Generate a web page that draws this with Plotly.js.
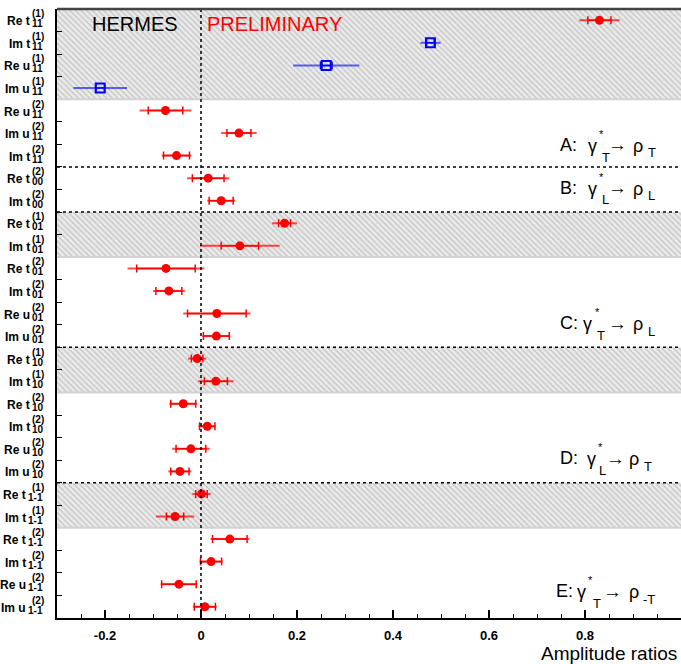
<!DOCTYPE html>
<html>
<head>
<meta charset="utf-8">
<script src="https://cdn.plot.ly/plotly-3.0.1.min.js"></script>
<style>html,body{margin:0;padding:0;background:#fff;}#chart{width:681px;height:664px;}</style>
</head>
<body>
<div id="chart"></div>
<script>
// ---- data ----
var labelMain = ['Re t','Im t','Re u','Im u','Re u','Im u','Im t','Re t','Im t','Re t','Im t','Re t','Im t','Re u','Im u','Re t','Im t','Re t','Im t','Re u','Im u','Re t','Im t','Re t','Im t','Re u','Im u'];
var labelSub  = ['11','11','11','11','11','11','11','00','00','01','01','01','01','01','01','10','10','10','10','10','10','1-1','1-1','1-1','1-1','1-1','1-1'];
var labelSup  = ['(1)','(1)','(1)','(1)','(2)','(2)','(2)','(2)','(2)','(1)','(1)','(2)','(2)','(2)','(2)','(1)','(1)','(2)','(2)','(2)','(2)','(1)','(1)','(2)','(2)','(2)','(2)'];
var ratio     = [0.830, 0.478, 0.261, -0.210, -0.074, 0.079, -0.051, 0.015, 0.042, 0.174, 0.081, -0.073, -0.067, 0.033, 0.032, -0.008, 0.031, -0.037, 0.013, -0.021, -0.044, 0.001, -0.054, 0.060, 0.021, -0.046, 0.008];
var statErr   = [0.024, 0.008, 0.012, 0.009, 0.036, 0.025, 0.027, 0.033, 0.025, 0.0125, 0.039, 0.061, 0.027, 0.061, 0.027, 0.012, 0.024, 0.026, 0.016, 0.031, 0.019, 0.012, 0.018, 0.036, 0.022, 0.036, 0.022];
var totErr    = [0.042, 0.021, 0.069, 0.056, 0.054, 0.037, 0.031, 0.044, 0.029, 0.026, 0.083, 0.080, 0.033, 0.070, 0.029, 0.019, 0.037, 0.029, 0.018, 0.039, 0.024, 0.019, 0.040, 0.040, 0.024, 0.038, 0.025];
var series    = ['red','blue','blue','blue','red','red','red','red','red','red','red','red','red','red','red','red','red','red','red','red','red','red','red','red','red','red','red'];
var shadedBands = [[0,4],[9,11],[15,17],[21,23]];   // row ranges with hatched background
var groupBounds = [7, 9, 15, 21];                   // dotted separators (row boundaries)
var tickVals = [-0.2, 0, 0.2, 0.4, 0.6, 0.8];
var tickText = ['-0.2','0','0.2','0.4','0.6','0.8'];
var xRange = [-0.3, 1.0];

// ---- layout helpers ----
var FONT = 'Liberation Sans, Arial, Helvetica, sans-serif';
// narrow face for the row labels if it is installed
var LABELFONT = FONT, LABELSIZE = 12;
(function(){
  try {
    var c = document.createElement('canvas').getContext('2d');
    c.font = 'bold 13px "Liberation Sans Narrow", monospace';
    var a = c.measureText('Re uuuu Im').width;
    c.font = 'bold 13px monospace';
    var b = c.measureText('Re uuuu Im').width;
    if (Math.abs(a - b) > 0.5) { LABELFONT = 'Liberation Sans Narrow, ' + FONT; LABELSIZE = 13; }
  } catch (e) {}
})();
var L = 57, T = 9, W = 624, H = 609;
function px(x){ return (x - L) / W; }
function py(y){ return 1 - (y - T) / H; }
var nRows = labelMain.length;

var traces = [];
shadedBands.forEach(function(b){
  traces.push({
    x: [xRange[0], xRange[1], xRange[1], xRange[0], xRange[0]],
    y: [b[0], b[0], b[1], b[1], b[0]],
    mode: 'lines', fill: 'toself', line: {width: 0},
    fillcolor: '#e8e8e8',
    fillpattern: {shape: '\\', fgcolor: '#c2c2c2', bgcolor: '#ebebeb', size: 4, solidity: 0.3},
    hoverinfo: 'skip', showlegend: false
  });
});

function pick(arr, col){ return arr.filter(function(_, i){ return series[i] === col; }); }
var rowY = labelMain.map(function(_, i){ return i + 0.5; });

['red','blue'].forEach(function(col){
  var xs = pick(ratio, col), ys = pick(rowY, col);
  var full = col === 'red' ? 'rgb(255,0,0)' : 'rgb(0,0,255)';
  var soft = col === 'red' ? 'rgba(255,0,0,0.7)' : 'rgba(20,20,255,0.65)';
  traces.push({
    x: xs, y: ys, mode: 'markers', marker: {size: 1, color: 'rgba(0,0,0,0)'},
    error_x: {type: 'data', array: pick(totErr, col), symmetric: true, color: soft, thickness: 2, width: 0},
    hoverinfo: 'skip', showlegend: false
  });
  traces.push({
    x: xs, y: ys, mode: 'markers',
    marker: col === 'red'
      ? {symbol: 'circle', size: 9, color: full}
      : {symbol: 'square-open', size: 9, color: full, line: {width: 2, color: full}},
    error_x: {type: 'data', array: pick(statErr, col), symmetric: true, color: full, thickness: 1.5, width: 4},
    hoverinfo: 'skip', showlegend: false
  });
});

var shapes = [];
shadedBands.forEach(function(b){
  shapes.push({type:'line', xref:'paper', yref:'y', x0:0, x1:1, y0:b[1], y1:b[1], line:{color:'#d2d2d2', width:2}});
});
groupBounds.forEach(function(r){
  shapes.push({type:'line', xref:'paper', yref:'y', x0:0, x1:1, y0:r, y1:r, line:{color:'#000', width:1.5, dash:'dot'}});
});
shapes.push({type:'line', xref:'x', yref:'paper', x0:0, x1:0, y0:0, y1:1, line:{color:'#000', width:1.5, dash:'dot'}});
shapes.push({type:'line', xref:'paper', yref:'paper', x0:0, x1:1, y0:1, y1:1, line:{color:'#444', width:2.5}});

var ann = [];
for (var i = 0; i < nRows; i++) {
  var wide = labelSub[i].length > 2;
  var mainR = wide ? 27 : 31, scrL = wide ? 27 : 31;
  ann.push({xref:'paper', yref:'y', x:px(mainR), y:i+0.5, xanchor:'right', yanchor:'middle', showarrow:false,
    text:labelMain[i], font:{family:LABELFONT, size:LABELSIZE, color:'#000', weight:'bold'}, yshift:-1, borderpad:0});
  ann.push({xref:'paper', yref:'y', x:px(scrL), y:i+0.5, xanchor:'left', yanchor:'middle', showarrow:false,
    text:labelSub[i], font:{family:FONT, size:10, color:'#000', weight:'bold'}, yshift:-3.5, borderpad:0});
  ann.push({xref:'paper', yref:'y', x:px(wide ? 31 : 31), y:i+0.5, xanchor:'left', yanchor:'middle', showarrow:false,
    text:labelSup[i], font:{family:FONT, size:10, color:'#000', weight:'bold'}, yshift:6.5, borderpad:0});
}
function txt(s, x, y, size, color){
  ann.push({xref:'paper', yref:'paper', x:px(x), y:py(y), xanchor:'left', yanchor:'middle', showarrow:false,
    text:s, font:{family:FONT, size:size, color:color || '#000'}, borderpad:0});
}
txt('HERMES', 91, 24, 20);
txt('PRELIMINARY', 206, 24, 20, '#ff0000');
// group labels: [prefix, gammaX, starX, subX, gammaSub, arrowX, rhoX, rhoSubX, rhoSub, yCenter, prefixX]
var groups = [
  ['A:', 587, 598, 601, 'T', 607, 632, 647, 'T', 145, 559],
  ['B:', 587, 598, 601, 'L', 607, 632, 647, 'L', 188, 559],
  ['C:', 582, 594, 596, 'T', 607, 632, 647, 'L', 323, 559],
  ['D:', 586, 597, 598, 'L', 605, 628, 643, 'T', 458, 559],
  ['E:', 576, 587, 592, 'T', 602, 628, 642, '-T', 591, 555]
];
groups.forEach(function(g){
  var y = g[9];
  txt(g[0], g[10], y, 18);
  txt('γ', g[1], y + 1, 18);
  txt('*', g[2], y - 11, 11);
  txt(g[4], g[3], y + 12, 13);
  txt('→', g[5], y, 19);
  txt('ρ', g[6], y + 1, 18);
  txt(g[8], g[7], y + 8, 13);
});
txt('Amplitude ratios', 540, 653, 19);

var layout = {
  width: 681, height: 664,
  margin: {l: L, r: 0, t: T, b: 664 - T - H, pad: 0},
  paper_bgcolor: '#fff', plot_bgcolor: '#fff',
  showlegend: false,
  xaxis: {
    range: xRange, showgrid: false, zeroline: false,
    showline: true, linecolor: '#000', linewidth: 2,
    ticks: 'inside', ticklen: 8, tickwidth: 1.5, tickcolor: '#000',
    tickmode: 'array', tickvals: tickVals, ticktext: tickText,
    tickfont: {family: FONT, size: 13, color: '#000', weight: 'bold'},
    ticklabelstandoff: 4,
    minor: {tickmode: 'linear', tick0: 0, dtick: 0.05, ticks: 'inside', ticklen: 4, tickwidth: 1, tickcolor: '#000'},
    fixedrange: true
  },
  yaxis: {
    range: [nRows, 0], showgrid: false, zeroline: false,
    showline: true, linecolor: '#000', linewidth: 2,
    ticks: 'inside', ticklen: 5, tickwidth: 1, tickcolor: '#000',
    tickmode: 'array', tickvals: labelMain.map(function(_, i){ return i; }).slice(1),
    showticklabels: false, fixedrange: true
  },
  shapes: shapes,
  annotations: ann
};
Plotly.newPlot('chart', traces, layout, {displayModeBar: false, staticPlot: true});
</script>
</body>
</html>
